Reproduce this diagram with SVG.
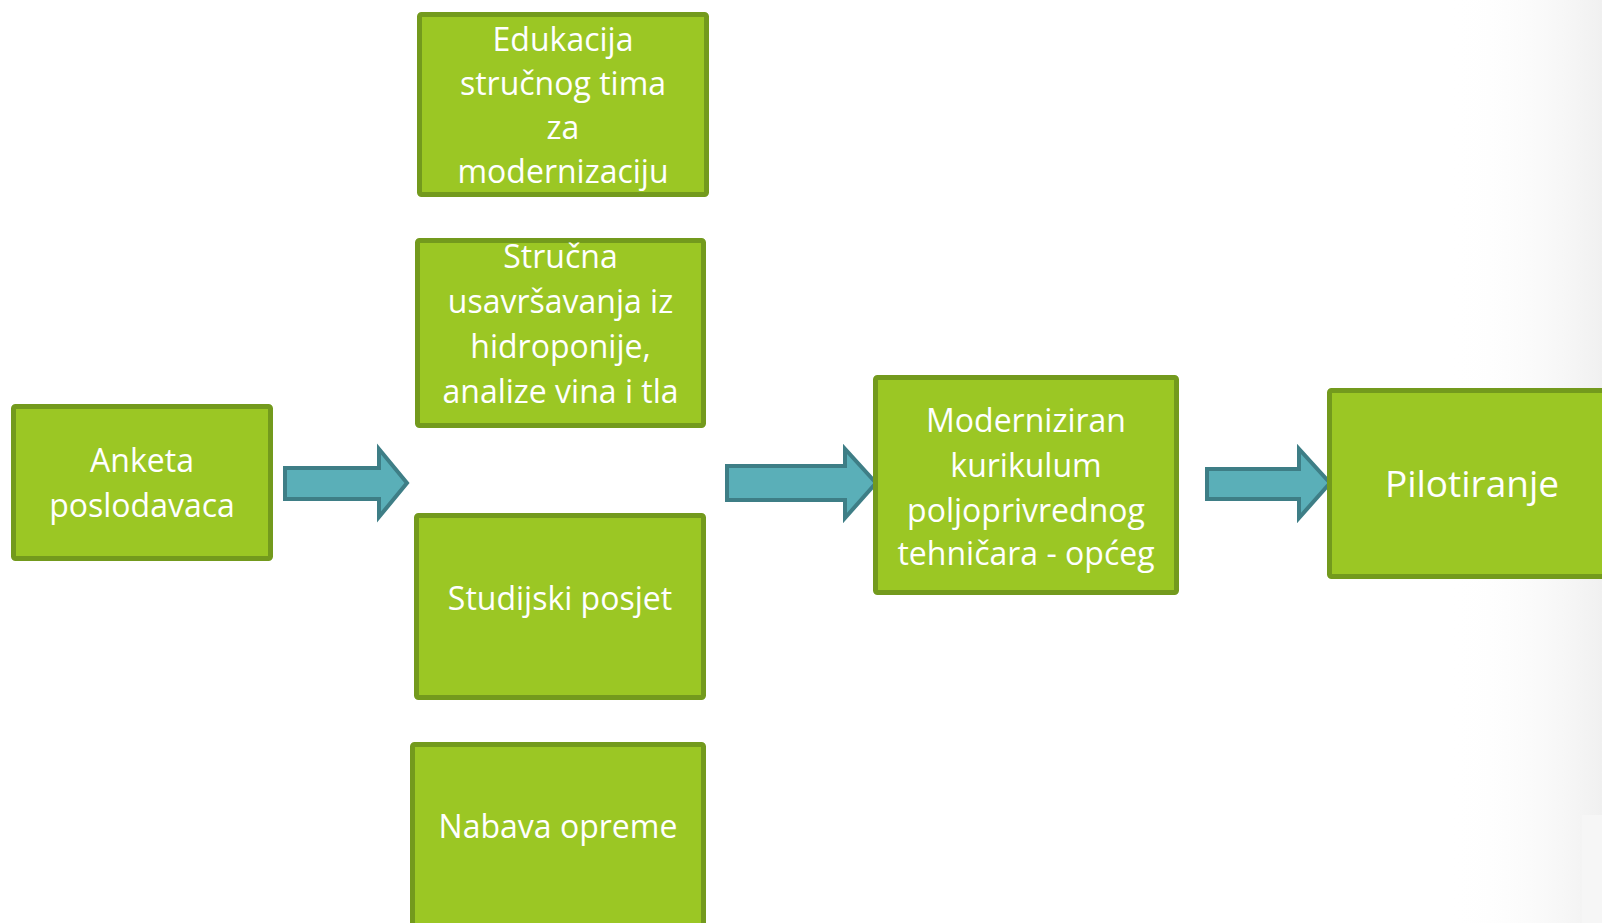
<svg xmlns="http://www.w3.org/2000/svg" width="1602" height="923" viewBox="0 0 1602 923">
<defs>
<linearGradient id="bg" x1="0" y1="0" x2="1" y2="0">
<stop offset="0" stop-color="#ffffff" stop-opacity="0"/>
<stop offset="1" stop-color="#f0f0f0" stop-opacity="1"/>
</linearGradient>
<style>
.box{fill:#9bc724;stroke:#739a1d;stroke-width:5}
.t{font-family:"Open Sans","Noto Sans",sans-serif;font-size:32px;fill:#ffffff;text-anchor:middle}
.arr{fill:#5aafb8;stroke:#3e7e86;stroke-width:4;stroke-linejoin:miter}
</style>
</defs>
<rect x="0" y="0" width="1602" height="923" fill="#ffffff"/>
<rect x="1450" y="0" width="152" height="923" fill="url(#bg)"/>
<rect x="1582" y="815" width="20" height="108" fill="#f6f6f6"/>
<g id="connectors">
<polygon class="arr" points="285,468 379,468 379,449 407,483 379,517 379,499 285,499"/>
<polygon class="arr" points="727,466 845,466 845,449 876,483 845,518 845,500 727,500"/>
<polygon class="arr" points="1207,469 1299,469 1299,449 1330,483 1299,518 1299,499 1207,499"/>
</g>
<g id="anketa">
<rect class="box" x="13.5" y="406.5" width="257" height="152" rx="2"/>
<text class="t" x="142" y="472">Anketa</text>
<text class="t" x="142" y="517">poslodavaca</text>
</g>
<g id="edukacija">
<rect class="box" x="419.5" y="14.5" width="287" height="180" rx="2"/>
<text class="t" x="563" y="51">Edukacija</text>
<text class="t" x="563" y="95">stručnog tima</text>
<text class="t" x="563" y="139">za</text>
<text class="t" x="563" y="183">modernizaciju</text>
</g>
<g id="strucna">
<rect class="box" x="417.5" y="240.5" width="286" height="185" rx="2"/>
<text class="t" x="560.5" y="268">Stručna</text>
<text class="t" x="560.5" y="313">usavršavanja iz</text>
<text class="t" x="560.5" y="358">hidroponije,</text>
<text class="t" x="560.5" y="403">analize vina i tla</text>
</g>
<g id="studijski">
<rect class="box" x="416.5" y="515.5" width="287" height="182" rx="2"/>
<text class="t" x="560" y="610">Studijski posjet</text>
</g>
<g id="nabava">
<rect class="box" x="412.5" y="744.5" width="291" height="200" rx="2"/>
<text class="t" x="558" y="838">Nabava opreme</text>
</g>
<g id="kurikulum">
<rect class="box" x="875.5" y="377.5" width="301" height="215" rx="2"/>
<text class="t" x="1026" y="432">Moderniziran</text>
<text class="t" x="1026" y="477">kurikulum</text>
<text class="t" x="1026" y="522">poljoprivrednog</text>
<text class="t" x="1026" y="565">tehničara - općeg</text>
</g>
<g id="pilotiranje">
<rect class="box" x="1329.5" y="390.5" width="300" height="186" rx="2"/>
<text class="t" x="1472" y="497" style="font-size:37px">Pilotiranje</text>
</g>
</svg>
